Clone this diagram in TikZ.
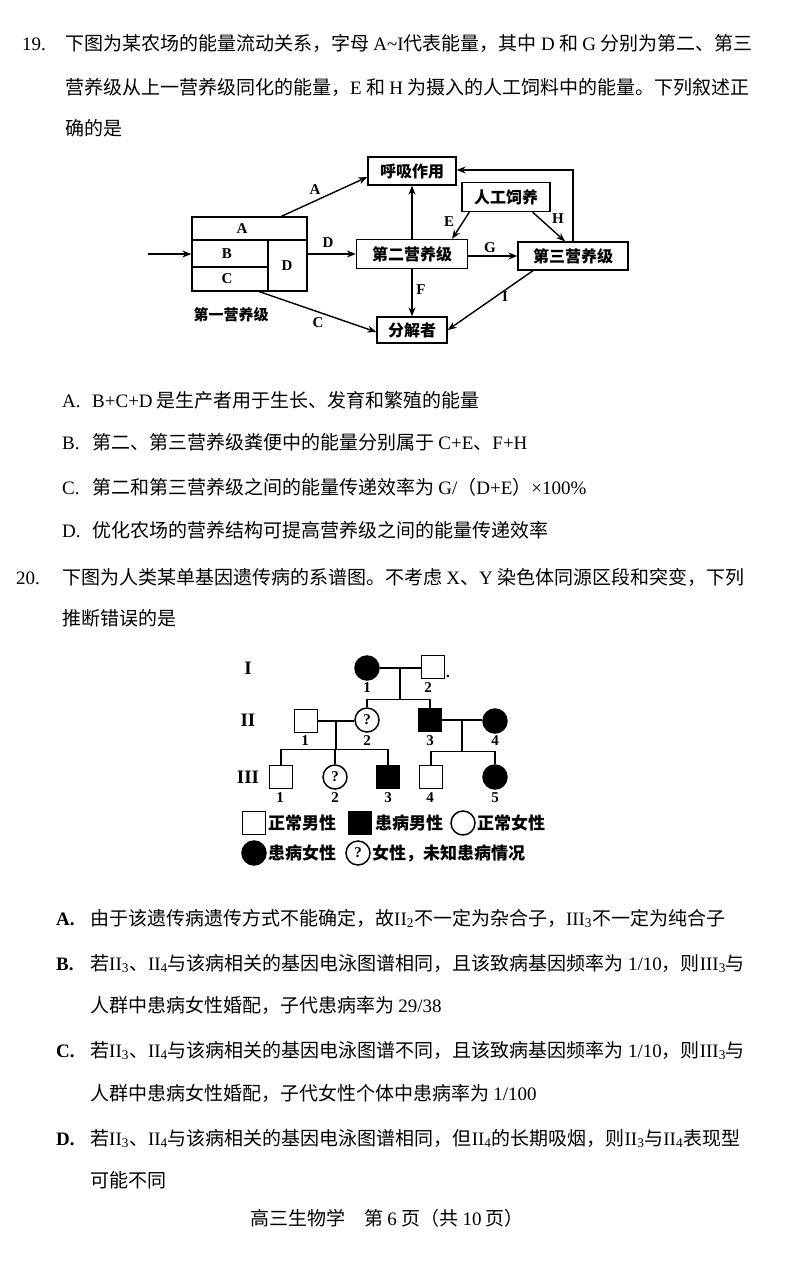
\documentclass[tikz,border=0pt]{standalone}
\usepackage{fontspec}
\setmainfont{Noto Sans CJK SC}
\newfontfamily\lt{Liberation Serif}
\usetikzlibrary{arrows.meta,calc}
\newcommand\rn[2]{{\lt #1\textsubscript{#2}}}
\begin{document}
\begin{tikzpicture}[x=1pt,y={(0pt,-1pt)},
  txt/.style={anchor=base west,inner sep=0pt,font=\fontsize{19}{19}\selectfont},
  box/.style={draw,line width=1.3pt,inner sep=0pt,font=\fontsize{16}{16}\selectfont\bfseries},
  arr/.style={-{Stealth[length=9pt,width=7pt]},line width=1.4pt},
  lbl/.style={inner sep=0pt,font=\lt\bfseries\fontsize{15}{15}\selectfont},
  sq/.style={draw,line width=1.5pt,minimum size=23pt,inner sep=0pt,fill=white},
  fsq/.style={sq,fill=black},
  ci/.style={draw,circle,line width=1.5pt,minimum size=24pt,inner sep=0pt,fill=white},
  fci/.style={ci,fill=black},
  qci/.style={ci,font=\lt\bfseries\fontsize{15}{15}\selectfont},
  num/.style={inner sep=0pt,font=\lt\bfseries\fontsize{15}{15}\selectfont},
  gen/.style={inner sep=0pt,font=\lt\bfseries\fontsize{19}{19}\selectfont},
  leg/.style={anchor=west,inner sep=0pt,font=\fontsize{17}{17}\selectfont\bfseries},
  pl/.style={line width=1.6pt}]
\fill[white] (0,0) rectangle (800,1262);
\useasboundingbox (0,0) rectangle (800,1262);

% ---------- Question 19 ----------
\node[txt] (q19n) at (22,50) {\lt 19.};
\node[txt] (q19a) at (65,50) {下图为某农场的能量流动关系，字母 {\lt A\textasciitilde I}代表能量，其中 {\lt D} 和 {\lt G} 分别为第二、第三};
\node[txt] (q19b) at (65,94) {营养级从上一营养级同化的能量，{\lt E} 和 {\lt H} 为摄入的人工饲料中的能量。下列叙述正};
\node[txt] (q19c) at (65,135) {确的是};

% diagram
\node[box,minimum width=88pt,minimum height=28pt] (resp) at (412,171) {呼吸作用};
\node[box,minimum width=88pt,minimum height=29pt] (feed) at (506,197) {人工饲养};
\node[box,minimum width=111pt,minimum height=29pt] (sec) at (412,254) {第二营养级};
\node[box,minimum width=110pt,minimum height=28pt] (thr) at (573,256) {第三营养级};
\node[box,minimum width=70pt,minimum height=26pt] (dec) at (412,330) {分解者};
\node[draw,line width=1.3pt,minimum width=115pt,minimum height=74pt,inner sep=0pt] (first) at (249.5,254) {};
\draw[line width=1.2pt] (192,240) -- (307,240) (268,240) -- (268,291) (192,267) -- (268,267);
\node[lbl] (la) at (242,229) {A};
\node[lbl] (lb) at (227,254) {B};
\node[lbl] (lc) at (227,279) {C};
\node[lbl] (ld) at (287,266) {D};
\node[inner sep=0pt,font=\fontsize{15}{15}\selectfont\bfseries] (firstlbl) at (231,315) {第一营养级};

\coordinate (in) at (148,254);
\draw[arr] (in) -- (first.west);
\draw[arr] ([xshift=90pt]first.north west) -- ([yshift=-6pt]resp.west);
\node[lbl] (eA) at (315,190) {A};
\draw[arr] (first.east) -- (sec.west);
\node[lbl] (eD) at (328,243) {D};
\draw[arr] (sec.north) -- (resp.south);
\draw[arr] (sec.south) -- (dec.north);
\node[lbl] (eF) at (421,290) {F};
\draw[arr] ([yshift=-2pt]sec.east) -- (thr.west);
\node[lbl] (eG) at (490,248) {G};
\draw[arr] ([xshift=8pt]feed.south west) -- ([xshift=-16pt]sec.north east);
\node[lbl] (eE) at (449,222) {E};
\draw[arr] ([xshift=-18pt]feed.south east) -- ([xshift=-8pt]thr.north);
\node[lbl] (eH) at (558,219) {H};
\coordinate (fb) at (573,170);
\draw[arr] (thr.north) -- (fb) -- (fb -| resp.east);
\draw[arr] ([xshift=68pt]first.south west) -- ([yshift=-2pt]dec.west);
\node[lbl] (eC) at (318,323) {C};
\draw[arr] ([xshift=-40pt]thr.south) -- (dec.east);
\node[lbl] (eI) at (505,297) {I};

% options 19
\node[txt] (o19a) at (62,407) {\lt A.};
\node[txt] (o19at) at (92,407) {{\lt B+C+D} 是生产者用于生长、发育和繁殖的能量};
\node[txt] (o19b) at (62,449) {\lt B.};
\node[txt] (o19bt) at (92,449) {第二、第三营养级粪便中的能量分别属于 {\lt C+E}、{\lt F+H}};
\node[txt] (o19c) at (62,494) {\lt C.};
\node[txt] (o19ct) at (92,494) {第二和第三营养级之间的能量传递效率为 {\lt G/}（{\lt D+E}）{\lt ×100\%}};
\node[txt] (o19d) at (62,537) {\lt D.};
\node[txt] (o19dt) at (92,537) {优化农场的营养结构可提高营养级之间的能量传递效率};

% ---------- Question 20 ----------
\node[txt] (q20n) at (16,584) {\lt 20.};
\node[txt] (q20a) at (62,584) {下图为人类某单基因遗传病的系谱图。不考虑 {\lt X}、{\lt Y} 染色体同源区段和突变，下列};
\node[txt] (q20b) at (62,625) {推断错误的是};

% pedigree
\node[gen] (g1) at (248,668) {I};
\node[gen] (g2) at (248,720) {II};
\node[gen] (g3) at (248,777) {III};
\node[fci] (i1) at (367,668) {};
\node[sq] (i2) at (433,667) {};
\node[sq] (ii1) at (306,721) {};
\node[qci] (ii2) at (367,720) {?};
\node[fsq] (ii3) at (430,720) {};
\node[fci] (ii4) at (495,721) {};
\node[sq] (iii1) at (281,777) {};
\node[qci] (iii2) at (335,777) {?};
\node[fsq] (iii3) at (388,777) {};
\node[sq] (iii4) at (431,777) {};
\node[fci] (iii5) at (495,777) {};

\draw[pl] (i1.east) -- (i2.west |- i1.east);
\coordinate (m1) at ($(i1.east)!0.5!(i2.west)$);
\coordinate (s1) at ($(m1)+(0,32)$);
\draw[pl] (m1) -- (s1);
\draw[pl] (ii2.north) |- (s1) -| (ii3.north);
\draw[pl] (ii1.east) -- (ii2.west |- ii1.east);
\coordinate (m2) at ($(ii1.east)!0.5!(ii2.west)$);
\coordinate (s2) at ($(m2)+(0,29)$);
\draw[pl] (m2) -- (s2);
\draw[pl] (iii1.north) |- (s2) -| (iii3.north);
\draw[pl] (iii2.north) -- (iii2.north |- s2);
\draw[pl] (ii3.east) -- (ii4.west |- ii3.east);
\coordinate (m3) at ($(ii3.east)!0.5!(ii4.west)$);
\coordinate (s3) at ($(m3)+(0,31)$);
\draw[pl] (m3) -- (s3);
\draw[pl] (iii4.north) |- (s3) -| (iii5.north);

\node[num] (n11) at (367,688) {1};
\node[num] (n12) at (428,688) {2};
\node[num] (n12d) at (448,676) {.};
\node[num] (n21) at (305,741) {1};
\node[num] (n22) at (367,741) {2};
\node[num] (n23) at (430,741) {3};
\node[num] (n24) at (495,741) {4};
\node[num] (n31) at (280,798) {1};
\node[num] (n32) at (335,798) {2};
\node[num] (n33) at (388,798) {3};
\node[num] (n34) at (430,798) {4};
\node[num] (n35) at (495,798) {5};

% legend
\node[sq] (k1) at (254,823) {};
\node[leg] (k1t) at (268,823) {正常男性};
\node[fsq] (k2) at (360,823) {};
\node[leg] (k2t) at (375,823) {患病男性};
\node[ci] (k3) at (463,823) {};
\node[leg] (k3t) at (477,823) {正常女性};
\node[fci] (k4) at (254,853) {};
\node[leg] (k4t) at (268,853) {患病女性};
\node[qci] (k5) at (358,853) {?};
\node[leg] (k5t) at (372,853) {女性，未知患病情况};

% options 20
\node[txt] (o20a) at (56,925) {\lt\bfseries A.};
\node[txt] (o20at) at (90,925) {由于该遗传病遗传方式不能确定，故\rn{II}{2}不一定为杂合子，\rn{III}{3}不一定为纯合子};
\node[txt] (o20b) at (56,970) {\lt\bfseries B.};
\node[txt] (o20bt) at (90,970) {若\rn{II}{3}、\rn{II}{4}与该病相关的基因电泳图谱相同，且该致病基因频率为 {\lt 1/10}，则\rn{III}{3}与};
\node[txt] (o20b2) at (90,1012) {人群中患病女性婚配，子代患病率为 {\lt 29/38}};
\node[txt] (o20c) at (56,1057) {\lt\bfseries C.};
\node[txt] (o20ct) at (90,1057) {若\rn{II}{3}、\rn{II}{4}与该病相关的基因电泳图谱不同，且该致病基因频率为 {\lt 1/10}，则\rn{III}{3}与};
\node[txt] (o20c2) at (90,1100) {人群中患病女性婚配，子代女性个体中患病率为 {\lt 1/100}};
\node[txt] (o20d) at (56,1145) {\lt\bfseries D.};
\node[txt] (o20dt) at (90,1145) {若\rn{II}{3}、\rn{II}{4}与该病相关的基因电泳图谱相同，但\rn{II}{4}的长期吸烟，则\rn{II}{3}与\rn{II}{4}表现型};
\node[txt] (o20d2) at (90,1187) {可能不同};

\node[anchor=base,inner sep=0pt,font=\fontsize{19}{19}\selectfont] (foot) at (387,1225) {高三生物学\quad 第 {\lt 6} 页（共 {\lt 10} 页）};
\end{tikzpicture}
\end{document}
